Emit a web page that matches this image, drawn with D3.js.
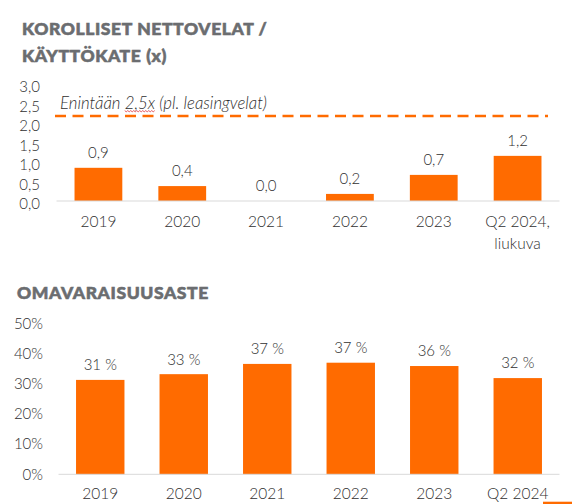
<!DOCTYPE html>
<html>
<head>
<meta charset="utf-8">
<script src="https://cdn.jsdelivr.net/npm/d3@7"></script>
<style>
  html, body { margin: 0; padding: 0; background: #fff; }
  svg { display: block; }
  text { font-family: Lato, "Open Sans", sans-serif; }
</style>
</head>
<body>
<svg id="chart" width="572" height="504"></svg>
<script>
// ---- Data ----
const debtTitle = ["KOROLLISET NETTOVELAT /", "KÄYTTÖKATE (x)"];
const debtCategories = ["2019", "2020", "2021", "2022", "2023", "Q2 2024,\nliukuva"];
const debtValues = [0.89, 0.40, 0.0, 0.19, 0.70, 1.21];
const debtTicks = [0, 0.5, 1.0, 1.5, 2.0, 2.5, 3.0];
const debtLimitText = ["Enintään ", "2,5x", " (pl. leasingvelat)"];
const debtLimitLine = 2.28;

const equityTitle = "OMAVARAISUUSASTE";
const equityCategories = ["2019", "2020", "2021", "2022", "2023", "Q2 2024"];
const equityValues = [31.3, 33.2, 36.6, 37.0, 35.9, 31.9];
const equityTicks = [0, 10, 20, 30, 40, 50];

// ---- Styles ----
const ORANGE = "#FF6B00";
const TEXT = "#303030";
const TITLE = "#6b6d70";
const AXIS = "#d9d9d9";
const LBL_W = 300;

const svg = d3.select("#chart");
const fi = d3.formatLocale({decimal: ",", thousands: " ", grouping: [3], currency: ["", "€"]});
const f1 = fi.format(".1f");

function titleStyle(sel) {
  sel.attr("fill", TITLE).attr("stroke", TITLE).attr("stroke-width", 0.6)
    .attr("font-size", 17.5).attr("font-weight", 900).attr("letter-spacing", 0.6);
}

// ================= Top chart =================
const tTitle = svg.append("text").call(titleStyle);
debtTitle.forEach((t, i) => tTitle.append("tspan").attr("x", 22).attr("y", 35 + i * 27).text(t));

const x1 = d3.scaleBand().domain(debtCategories).range([56.5, 559.5]).paddingInner(0.43).paddingOuter(0.215);
const y1 = d3.scaleLinear().domain([0, 3]).range([201, 89.1]);
const y1Label = d3.scaleLinear().domain([0, 3]).range([204, 87]);

const g1 = svg.append("g");
const ax1 = g1.append("g").attr("transform", "translate(41,0)")
  .call(d3.axisLeft(y1Label).tickValues(debtTicks).tickFormat(f1).tickSize(0).tickPadding(1));
ax1.select(".domain").remove();
ax1.selectAll("text").attr("fill", TEXT).attr("font-size", 15).attr("font-family", "Lato").attr("font-weight", LBL_W);

g1.selectAll("rect.bar").data(debtValues).join("rect").attr("class", "bar")
  .attr("x", (d, i) => x1(debtCategories[i]))
  .attr("width", x1.bandwidth())
  .attr("y", d => y1(d))
  .attr("height", d => y1(0) - y1(d))
  .attr("fill", ORANGE);

g1.append("line").attr("x1", x1.range()[0]).attr("x2", x1.range()[1])
  .attr("y1", y1(0)).attr("y2", y1(0)).attr("stroke", AXIS).attr("stroke-width", 1);

g1.selectAll("text.val").data(debtValues).join("text").attr("class", "val")
  .attr("x", (d, i) => x1(debtCategories[i]) + x1.bandwidth() / 2)
  .attr("y", d => y1(d) - 9.6)
  .attr("text-anchor", "middle").attr("fill", TEXT).attr("font-size", 15).attr("font-weight", LBL_W)
  .text(d => f1(d));

g1.selectAll("text.cat").data(debtCategories).join("text").attr("class", "cat")
  .attr("text-anchor", "middle").attr("fill", TEXT).attr("font-size", 15.5).attr("font-weight", LBL_W)
  .each(function(d) {
    const el = d3.select(this);
    const cx = x1(d) + x1.bandwidth() / 2;
    d.split("\n").forEach((line, i) => {
      el.append("tspan").attr("x", cx).attr("y", y1(0) + 25.5 + i * 22.5).text(line);
    });
  });

g1.append("line").attr("x1", 55).attr("x2", 548)
  .attr("y1", y1(debtLimitLine)).attr("y2", y1(debtLimitLine))
  .attr("stroke", ORANGE).attr("stroke-width", 2.5).attr("stroke-dasharray", "11,6.5");

const lt = g1.append("text").attr("x", 60).attr("y", 109)
  .attr("fill", TEXT).attr("font-size", 16.8).attr("font-style", "italic").attr("font-weight", LBL_W);
debtLimitText.forEach((t, i) => lt.append("tspan").attr("class", "lt" + i).text(t));
try {
  const start = lt.node().getStartPositionOfChar(debtLimitText[0].length);
  const end = lt.node().getEndPositionOfChar(debtLimitText[0].length + debtLimitText[1].length - 1);
  const pts = [];
  for (let xx = start.x, k = 0; xx <= end.x; xx += 1.5, k++) pts.push([xx, 110.8 + (k % 2 ? 1 : -0.2)]);
  g1.append("path").attr("d", d3.line()(pts)).attr("fill", "none").attr("stroke", "#e0303a").attr("stroke-width", 0.8);
} catch (e) {}

// ================= Bottom chart =================
svg.append("text").attr("x", 17).attr("y", 298.5).call(titleStyle).text(equityTitle);

const x2 = d3.scaleBand().domain(equityCategories).range([58.5, 559.5]).paddingInner(0.42).paddingOuter(0.21);
const y2 = d3.scaleLinear().domain([0, 50]).range([474.3, 323.5]);

const g2 = svg.append("g");
const ax2 = g2.append("g").attr("transform", "translate(44,0)")
  .call(d3.axisLeft(y2).tickValues(equityTicks).tickFormat(d => d + "%").tickSize(0).tickPadding(1));
ax2.select(".domain").remove();
ax2.selectAll("text").attr("fill", TEXT).attr("font-size", 15).attr("font-family", "Lato").attr("font-weight", LBL_W);

g2.selectAll("rect.bar").data(equityValues).join("rect").attr("class", "bar")
  .attr("x", (d, i) => x2(equityCategories[i]))
  .attr("width", x2.bandwidth())
  .attr("y", d => y2(d))
  .attr("height", d => y2(0) - y2(d))
  .attr("fill", ORANGE);

g2.append("line").attr("x1", x2.range()[0]).attr("x2", x2.range()[1])
  .attr("y1", y2(0)).attr("y2", y2(0)).attr("stroke", AXIS).attr("stroke-width", 1);

g2.selectAll("text.val").data(equityValues).join("text").attr("class", "val")
  .attr("x", (d, i) => x2(equityCategories[i]) + x2.bandwidth() / 2)
  .attr("y", d => y2(d) - 9.6)
  .attr("text-anchor", "middle").attr("fill", TEXT).attr("font-size", 15).attr("font-weight", LBL_W)
  .text(d => Math.round(d) + " %");

g2.selectAll("text.cat").data(equityCategories).join("text").attr("class", "cat")
  .attr("x", d => x2(d) + x2.bandwidth() / 2)
  .attr("y", y2(0) + 24.5)
  .attr("text-anchor", "middle").attr("fill", TEXT).attr("font-size", 15.5).attr("font-weight", LBL_W)
  .text(d => d);

svg.append("rect").attr("x", 543).attr("y", 501.7).attr("width", 29).attr("height", 3).attr("fill", ORANGE);
</script>
</body>
</html>
